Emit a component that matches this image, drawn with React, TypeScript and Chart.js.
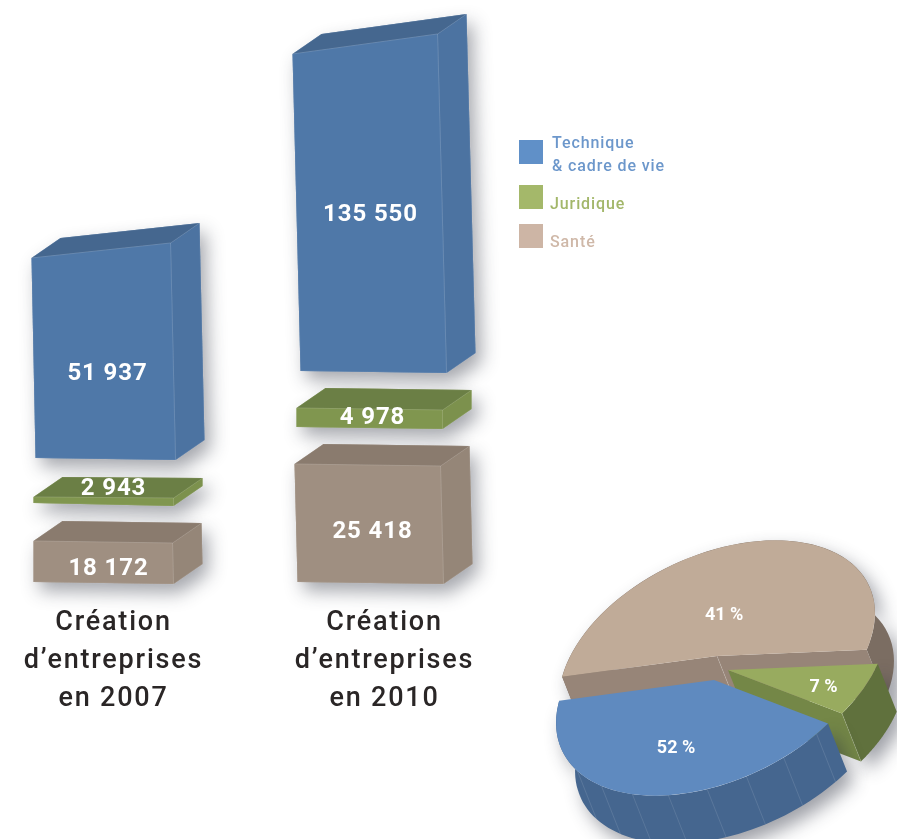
import React, { useEffect, useRef } from "react";
import { Chart, registerables } from "chart.js";

Chart.register(...registerables);

// ---- text ----
const years = ["2007", "2010"];
const titles = [
  ["Création", "d’entreprises", "en 2007"],
  ["Création", "d’entreprises", "en 2010"],
];
const techniqueLabels = ["51 937", "135 550"];
const juridiqueLabels = ["2 943", "4 978"];
const santeLabels = ["18 172", "25 418"];

// ---- drawn extent of each box on the (non proportional) picture scale ----
const techniqueDrawn: [number, number][] = [[127, 327], [214, 531]];
const juridiqueDrawn: [number, number][] = [[82, 88], [158, 177]];
const santeDrawn: [number, number][] = [[3, 44], [3, 121]];

// ---- pie: printed labels, and the share each slice covers as drawn ----
const pieSlices = ["Technique & cadre de vie", "Santé", "Juridique"];
const piePrinted = ["52 %", "41 %", "7 %"];
const pieDrawnShares = [41, 52, 7];

// ---- styling / perspective ----
const FONT = "Roboto, 'Noto Sans', sans-serif";
const faces = [
  { front: "#4f78a8", top: "#45678f", side: "#4c73a1" },
  { front: "#80964f", top: "#6b7f45", side: "#7c914d" },
  { front: "#9f8f81", top: "#8a7b6e", side: "#958678" },
];
const DEPTH = { x: 29, y: -20 };
// per series, per year: offsets of the four front corners and of the value label
const shapes = [
  [
    { tl: -12, tr: -13, rise: 15, bl: -8, br: -8, drop: 2, ldx: -6, ldy: 15 },
    { tl: -22, tr: -17, rise: 20, bl: -14, br: -8, drop: 2, ldx: -14, ldy: 1 },
  ],
  [
    { tl: -10, tr: -10, rise: -1, bl: -10, br: -10, drop: 3, ldx: 0, ldy: -12 },
    { tl: -18, tr: -12, rise: -2, bl: -18, br: -12, drop: 2, ldx: -12, ldy: -0.5 },
  ],
  [
    { tl: -10, tr: -11, rise: -2, bl: -10, br: -10, drop: 2, ldx: -5, ldy: 6.5 },
    { tl: -20, tr: -14, rise: -2, bl: -17, br: -11, drop: 2, ldx: -12, ldy: 8 },
  ],
];

const PIE_LEFT = 500;
const PIE_TOP = 500;
const pieAxes = { ux: 152, uy: -12, vx: -43, vy: 115 };
const pieExtrude = { x: 19, y: 48 };
const pieCenters = [
  { x: 714 - PIE_LEFT, y: 680 - PIE_TOP },
  { x: 717 - PIE_LEFT, y: 656 - PIE_TOP },
  { x: 728 - PIE_LEFT, y: 670 - PIE_TOP },
];
const pieTops = ["#5f8abf", "#c0ab98", "#98ab5f"];
const pieSides = ["#45668f", "#7b6d62", "#60713d"];
const pieWalls = ["#45668f", "#978578", "#748747"];
const pieLabelPlace = [
  { r: 0.56, dx: 3, dy: 4 },
  { r: 0.37, dx: -8, dy: 2 },
  { r: 0.7, dx: 1, dy: 4 },
];

type P = { x: number; y: number };

function poly(ctx: CanvasRenderingContext2D, pts: P[]) {
  ctx.beginPath();
  pts.forEach((p, i) => (i ? ctx.lineTo(p.x, p.y) : ctx.moveTo(p.x, p.y)));
  ctx.closePath();
}

const boxPlugin = {
  id: "boxes",
  beforeDraw(chart: any) {
    chart.ctx.letterSpacing = "1.8px";
  },
  beforeDatasetsDraw(chart: any) {
    const ctx: CanvasRenderingContext2D = chart.ctx;
    const boxes: any[] = [];
    chart.data.datasets.forEach((_: any, s: number) => {
      chart.getDatasetMeta(s).data.forEach((el: any, i: number) => {
        const g = shapes[s][i];
        const L = el.x - el.width / 2;
        const R = el.x + el.width / 2;
        const ftl = { x: L + g.tl, y: el.y };
        const ftr = { x: R + g.tr, y: el.y - g.rise };
        const fbr = { x: R + g.br, y: el.base + g.drop };
        const fbl = { x: L + g.bl, y: el.base };
        const up = (p: P) => ({ x: p.x + DEPTH.x, y: p.y + DEPTH.y });
        boxes.push({ s, i, el, g, ftl, ftr, fbr, fbl, btl: up(ftl), btr: up(ftr), bbr: up(fbr) });
      });
    });
    ctx.save();
    ctx.letterSpacing = "0px";
    // soft shadow pass
    boxes.forEach((b) => {
      ctx.save();
      ctx.shadowColor = "rgba(40,45,60,0.42)";
      ctx.shadowBlur = 18;
      ctx.shadowOffsetX = 6;
      ctx.shadowOffsetY = 9;
      ctx.fillStyle = faces[b.s].side;
      poly(ctx, [b.ftl, b.btl, b.btr, b.bbr, b.fbr, b.fbl]);
      ctx.fill();
      ctx.restore();
    });
    // faces
    boxes.forEach((b) => {
      const f = faces[b.s];
      ctx.lineWidth = 0.6;
      ctx.strokeStyle = "rgba(255,255,255,0.18)";
      ctx.fillStyle = f.side;
      poly(ctx, [b.ftr, b.btr, b.bbr, b.fbr]);
      ctx.fill();
      ctx.stroke();
      ctx.fillStyle = f.top;
      poly(ctx, [b.ftl, b.btl, b.btr, b.ftr]);
      ctx.fill();
      ctx.stroke();
      ctx.fillStyle = f.front;
      poly(ctx, [b.ftl, b.ftr, b.fbr, b.fbl]);
      ctx.fill();
      ctx.stroke();
    });
    // values
    const labels = [techniqueLabels, juridiqueLabels, santeLabels];
    ctx.fillStyle = "#ffffff";
    ctx.font = `700 24px ${FONT}`;
    ctx.letterSpacing = "0.9px";
    ctx.textAlign = "center";
    ctx.textBaseline = "middle";
    boxes.forEach((b) => {
      const cy = (b.el.y + b.el.base) / 2 + b.g.ldy;
      ctx.fillText(labels[b.s][b.i], b.el.x + b.g.ldx, cy + 1);
    });
    ctx.restore();
    return false;
  },
  afterDraw(chart: any) {
    chart.ctx.letterSpacing = "0px";
  },
};

const piePlugin = {
  id: "pie3d",
  beforeDatasetsDraw(chart: any) {
    const ctx: CanvasRenderingContext2D = chart.ctx;
    const arcs: any[] = chart.getDatasetMeta(0).data;
    const { ux, uy, vx, vy } = pieAxes;
    const at = (c: P, t: number, r = 1): P => ({
      x: c.x + r * (ux * Math.cos(t) + vx * Math.sin(t)),
      y: c.y + r * (uy * Math.cos(t) + vy * Math.sin(t)),
    });
    const ex = (p: P): P => ({ x: p.x + pieExtrude.x, y: p.y + pieExtrude.y });
    const order = [1, 2, 0];
    order.forEach((i) => {
      const arc = arcs[i];
      const c = pieCenters[i];
      const a0 = arc.startAngle;
      const a1 = arc.endAngle;
      const rim: P[] = [];
      const n = 60;
      for (let k = 0; k <= n; k++) rim.push(at(c, a0 + ((a1 - a0) * k) / n));
      const low = rim.map(ex).reverse();

      // outer side with a soft shadow
      ctx.save();
      ctx.shadowColor = "rgba(40,45,60,0.45)";
      ctx.shadowBlur = 18;
      ctx.shadowOffsetX = 7;
      ctx.shadowOffsetY = 9;
      ctx.fillStyle = pieSides[i];
      poly(ctx, [...rim, ...low]);
      ctx.fill();
      ctx.restore();

      // inner walls
      ctx.fillStyle = pieWalls[i];
      ctx.strokeStyle = "rgba(255,255,255,0.2)";
      ctx.lineWidth = 0.7;
      if (i === 1) {
        const l = at(c, a0);
        const r = at(c, a1);
        poly(ctx, [c, l, ex(l), ex(c)]);
        ctx.fill();
        poly(ctx, [c, r, ex(r), ex(c)]);
        ctx.fill();
        ctx.beginPath();
        ctx.moveTo(c.x, c.y);
        ctx.lineTo(ex(c).x, ex(c).y);
        ctx.stroke();
      }
      if (i === 2) {
        const e = at(c, a1);
        poly(ctx, [c, e, ex(e), ex(c)]);
        ctx.fill();
        ctx.beginPath();
        ctx.moveTo(e.x, e.y);
        ctx.lineTo(ex(e).x, ex(e).y);
        ctx.stroke();
      }
      if (i === 0) {
        // faint facet seams on the blue rim
        ctx.strokeStyle = "rgba(255,255,255,0.16)";
        for (let t = a0 + 0.1; t < a1; t += 0.25) {
          const p = at(c, t);
          ctx.beginPath();
          ctx.moveTo(p.x, p.y);
          ctx.lineTo(ex(p).x, ex(p).y);
          ctx.stroke();
        }
      }

      // top face: the library's own arc element, through the tilt transform
      const R = arc.outerRadius;
      ctx.save();
      ctx.translate(c.x, c.y);
      ctx.transform(ux / R, uy / R, vx / R, vy / R, 0, 0);
      ctx.translate(-arc.x, -arc.y);
      arc.draw(ctx);
      ctx.restore();
    });

    // printed labels
    ctx.save();
    ctx.fillStyle = "#ffffff";
    ctx.font = `700 18px ${FONT}`;
    ctx.textAlign = "center";
    ctx.textBaseline = "middle";
    arcs.forEach((arc, i) => {
      const pl = pieLabelPlace[i];
      const p = at(pieCenters[i], (arc.startAngle + arc.endAngle) / 2, pl.r);
      ctx.fillText(piePrinted[i], p.x + pl.dx, p.y + pl.dy);
    });
    ctx.restore();
    return false;
  },
};

const legendItems = [
  { color: "#6090c8", text: "#6c97cb", swatchTop: 140, textTop: 131, left: 552, lines: ["Technique", "& cadre de vie"] },
  { color: "#a4b86a", text: "#a3b76a", swatchTop: 185, textTop: 192, left: 550, lines: ["Juridique"] },
  { color: "#cdb5a5", text: "#cfb8a8", swatchTop: 224, textTop: 230, left: 550, lines: ["Santé"] },
];

export default function App() {
  const barRef = useRef<HTMLCanvasElement>(null);
  const pieRef = useRef<HTMLCanvasElement>(null);

  useEffect(() => {
    const bar = new Chart(barRef.current!, {
      type: "bar",
      data: {
        labels: titles as any,
        datasets: [
          { label: "Technique & cadre de vie", data: techniqueDrawn as any, backgroundColor: faces[0].front },
          { label: "Juridique", data: juridiqueDrawn as any, backgroundColor: faces[1].front },
          { label: "Santé", data: santeDrawn as any, backgroundColor: faces[2].front },
        ],
      },
      options: {
        responsive: false,
        animation: false,
        devicePixelRatio: 1,
        events: [],
        datasets: { bar: { grouped: false, barThickness: 140 } },
        layout: { padding: 0 },
        plugins: { legend: { display: false }, tooltip: { enabled: false } },
        scales: {
          x: {
            grid: { display: false, drawTicks: false },
            border: { display: false },
            afterFit: (s: any) => {
              s.height = 254;
            },
            ticks: {
              autoSkip: false,
              maxRotation: 0,
              minRotation: 0,
              padding: 19,
              color: "#2a2626",
              font: { family: FONT, size: 27, weight: "500", lineHeight: 38 / 27 },
            },
          },
          y: { display: false, min: 0, max: 585 },
        },
      } as any,
      plugins: [boxPlugin as any],
    });

    const pie = new Chart(pieRef.current!, {
      type: "pie",
      data: {
        labels: pieSlices,
        datasets: [{ data: pieDrawnShares, backgroundColor: pieTops, borderWidth: 0 }],
      },
      options: {
        responsive: false,
        animation: false,
        devicePixelRatio: 1,
        events: [],
        rotation: 118,
        plugins: { legend: { display: false }, tooltip: { enabled: false } },
      } as any,
      plugins: [piePlugin as any],
    });

    return () => {
      bar.destroy();
      pie.destroy();
    };
  }, []);

  return (
    <div style={{ position: "absolute", left: 0, top: 0, width: 897, height: 839, overflow: "hidden", background: "#fff", fontFamily: FONT }}>
      <canvas ref={barRef} width={542} height={839} style={{ position: "absolute", left: -22, top: 0, display: "block" }} />
      <canvas ref={pieRef} width={397} height={339} style={{ position: "absolute", left: PIE_LEFT, top: PIE_TOP, display: "block" }} />
      {legendItems.map((it) => (
        <React.Fragment key={it.lines[0]}>
          <div style={{ position: "absolute", left: 519, top: it.swatchTop, width: 24, height: 24, background: it.color }} />
          <div
            style={{
              position: "absolute",
              left: it.left,
              top: it.textTop,
              color: it.text,
              fontWeight: 500,
              fontSize: 16,
              lineHeight: "23px",
              letterSpacing: "0.9px",
              whiteSpace: "pre",
            }}
          >
            {it.lines.map((l) => (
              <div key={l}>{l}</div>
            ))}
          </div>
        </React.Fragment>
      ))}
    </div>
  );
}
